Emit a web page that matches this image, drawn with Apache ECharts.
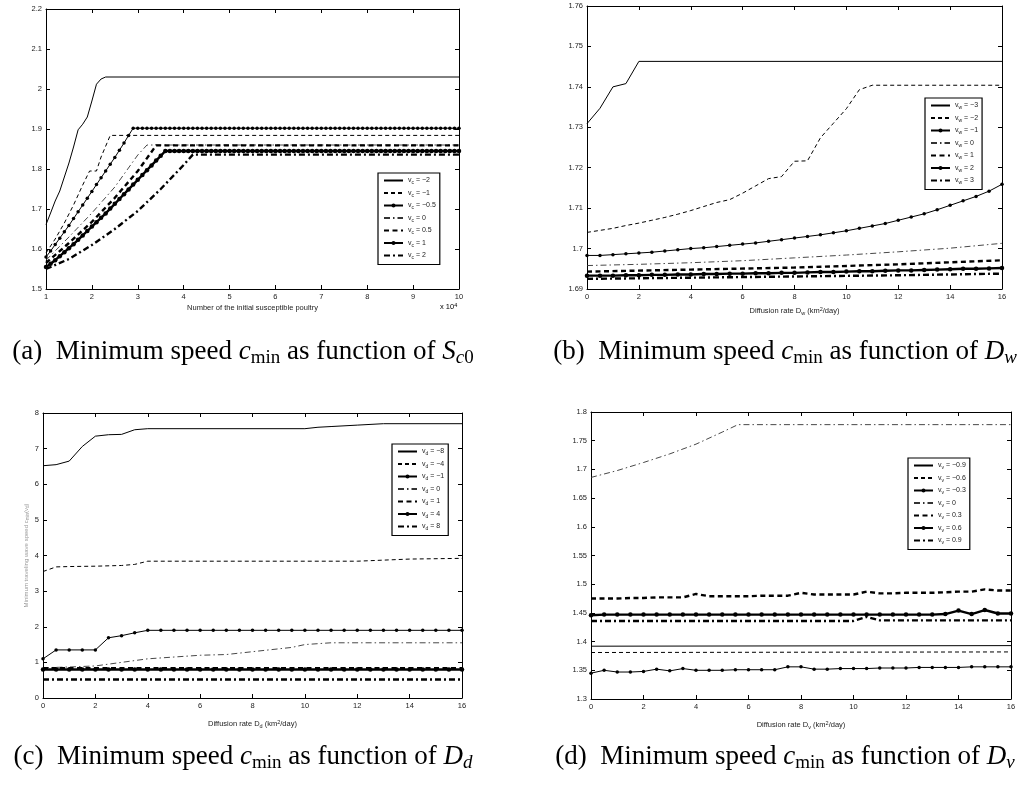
<!DOCTYPE html>
<html><head><meta charset="utf-8">
<script src="https://cdn.jsdelivr.net/npm/echarts@6/dist/echarts.min.js"></script>
<style>html,body{margin:0;padding:0;background:#fff}#c{width:1027px;height:787px}</style>
</head><body><div id="c"></div>
<script>
// ---------- Panel (a): c_min vs S_c0 (x in units of 10^4) ----------
const A_X = [1,1.1,1.2,1.3,1.4,1.5,1.6,1.7,1.8,1.9,
  2,2.1,2.2,2.3,2.4,2.5,2.6,2.7,2.8,2.9,
  3,3.1,3.2,3.3,3.4,3.5,3.6,3.7,3.8,3.9,
  4,4.1,4.2,4.3,4.4,4.5,4.6,4.7,4.8,4.9,
  5,5.1,5.2,5.3,5.4,5.5,5.6,5.7,5.8,5.9,
  6,6.1,6.2,6.3,6.4,6.5,6.6,6.7,6.8,6.9,
  7,7.1,7.2,7.3,7.4,7.5,7.6,7.7,7.8,7.9,
  8,8.1,8.2,8.3,8.4,8.5,8.6,8.7,8.8,8.9,
  9,9.1,9.2,9.3,9.4,9.5,9.6,9.7,9.8,9.9,10];
const A_VCm2 = [[1,1.661],[1.1,1.69],[1.2,1.72],[1.3,1.745],[1.4,1.78],[1.5,1.815],[1.6,1.855],[1.7,1.898],[1.8,1.912],[1.9,1.93],[2.0,1.97],[2.1,2.012],[2.2,2.025],[2.3,2.03],[10,2.03]];
const A_VCm1 = [[1,1.59],[1.2,1.625],[1.4,1.665],[1.6,1.71],[1.8,1.76],[1.95,1.795],[2.1,1.795],[2.2,1.83],[2.4,1.884],[10,1.884]];
const A_VCm05 = [1.580,1.595,1.611,1.627,1.643,1.659,1.676,1.693,1.710,1.727,
  1.744,1.761,1.778,1.795,1.812,1.829,1.847,1.865,1.884,1.902,
  1.902,1.902,1.902,1.902,1.902,1.902,1.902,1.902,1.902,1.902,
  1.902,1.902,1.902,1.902,1.902,1.902,1.902,1.902,1.902,1.902,
  1.902,1.902,1.902,1.902,1.902,1.902,1.902,1.902,1.902,1.902,
  1.902,1.902,1.902,1.902,1.902,1.902,1.902,1.902,1.902,1.902,
  1.902,1.902,1.902,1.902,1.902,1.902,1.902,1.902,1.902,1.902,
  1.902,1.902,1.902,1.902,1.902,1.902,1.902,1.902,1.902,1.902,
  1.902,1.902,1.902,1.902,1.902,1.902,1.902,1.902,1.902,1.902,1.902];
const A_VC0 = [[1,1.572],[1.5,1.63],[2,1.69],[2.5,1.755],[3,1.835],[3.2,1.86],[10,1.86]];
const A_VC05 = [[1,1.565],[1.5,1.615],[2,1.668],[2.5,1.728],[3,1.795],[3.4,1.859],[10,1.859]];
const A_VC1 = [1.555,1.563,1.572,1.582,1.592,1.602,1.612,1.623,1.634,1.645,
  1.656,1.667,1.678,1.689,1.701,1.713,1.725,1.737,1.749,1.761,
  1.773,1.785,1.797,1.809,1.821,1.833,1.845,1.845,1.845,1.845,
  1.845,1.845,1.845,1.845,1.845,1.845,1.845,1.845,1.845,1.845,
  1.845,1.845,1.845,1.845,1.845,1.845,1.845,1.845,1.845,1.845,
  1.845,1.845,1.845,1.845,1.845,1.845,1.845,1.845,1.845,1.845,
  1.845,1.845,1.845,1.845,1.845,1.845,1.845,1.845,1.845,1.845,
  1.845,1.845,1.845,1.845,1.845,1.845,1.845,1.845,1.845,1.845,
  1.845,1.845,1.845,1.845,1.845,1.845,1.845,1.845,1.845,1.845,1.845];
const A_VC2 = [[1,1.55],[1.5,1.575],[2,1.61],[2.5,1.65],[3,1.695],[3.5,1.75],[4,1.81],[4.2,1.836],[10,1.836]];
const A_LEG = ['\u22122','\u22121','\u22120.5','0','0.5','1','2'];

// ---------- shared x grid for (b),(c),(d) ----------
const X05 = [0,0.5,1,1.5,2,2.5,3,3.5,4,4.5,5,5.5,6,6.5,7,7.5,8,8.5,9,9.5,10,10.5,11,11.5,12,12.5,13,13.5,14,14.5,15,15.5,16];

// ---------- Panel (b): c_min vs D_w ----------
const B_VWm3 = [[0,1.7309],[0.5,1.7347],[1,1.740],[1.5,1.7408],[2,1.7463],[16,1.7463]];
const B_VWm2 = [[0,1.7040],[0.5,1.7045],[1,1.7050],[1.5,1.7057],[2,1.7063],[2.5,1.7070],[3,1.7077],[3.5,1.7085],[4,1.7094],[4.5,1.7104],[5,1.7114],[5.5,1.7121],[6,1.7137],[6.5,1.7155],[7,1.7173],[7.5,1.7178],[8,1.7216],[8.5,1.7217],[9,1.7274],[9.5,1.7310],[10,1.7346],[10.5,1.7393],[11,1.7404],[16,1.7404]];
const B_VWm1 = [1.6983,1.6983,1.6985,1.6987,1.6989,1.6991,1.6994,1.6997,1.7000,1.7002,1.7005,1.7008,1.7011,1.7014,1.7018,1.7022,1.7026,1.7030,1.7034,1.7039,1.7044,1.7050,1.7056,1.7062,1.7070,1.7078,1.7086,1.7096,1.7107,1.7118,1.7129,1.7142,1.7159];
const B_VW0 = [[0,1.6958],[2,1.6961],[4,1.6965],[6,1.6970],[8,1.6977],[10,1.6984],[12,1.6992],[14,1.7001],[16,1.7013]];
const B_VW1 = [[0,1.6943],[4,1.6948],[8,1.6953],[12,1.6961],[16,1.6971]];
const B_VW2 = [1.6933,1.6933,1.6933,1.6934,1.6934,1.6935,1.6935,1.6936,1.6936,1.6937,1.6937,1.6938,1.6938,1.6939,1.6939,1.6940,1.6940,1.6941,1.6942,1.6942,1.6943,1.6944,1.6944,1.6945,1.6946,1.6946,1.6947,1.6948,1.6949,1.6950,1.6950,1.6951,1.6952];
const B_VW3 = [[0,1.6925],[4,1.6928],[8,1.6931],[12,1.6934],[16,1.6938]];
const B_LEG = ['\u22123','\u22122','\u22121','0','1','2','3'];

// ---------- Panel (c): c_min vs D_d ----------
const C_VDm8 = [[0,6.52],[0.5,6.55],[1,6.65],[1.5,7.06],[2,7.35],[2.5,7.39],[3,7.4],[3.5,7.53],[4,7.56],[10,7.56],[10.5,7.6],[11,7.62],[12,7.66],[13,7.7],[16,7.7]];
const C_VDm4 = [[0,3.55],[0.5,3.68],[1,3.69],[2,3.7],[3,3.72],[3.5,3.75],[4,3.84],[12,3.84],[13,3.87],[14,3.9],[16,3.92]];
const C_VDm1 = [1.1,1.35,1.35,1.35,1.35,1.69,1.75,1.83,1.9,1.9,1.9,1.9,1.9,1.9,1.9,1.9,1.9,1.9,1.9,1.9,1.9,1.9,1.9,1.9,1.9,1.9,1.9,1.9,1.9,1.9,1.9,1.9,1.9];
const C_VD0 = [[0,0.85],[1,0.87],[2,0.9],[3,1.0],[4,1.1],[5,1.15],[6,1.2],[7,1.22],[8,1.3],[9,1.38],[9.5,1.42],[10,1.5],[11,1.55],[16,1.55]];
const C_VD1 = [[0,0.84],[16,0.84]];
const C_VD4 = [0.8,0.8,0.8,0.8,0.8,0.8,0.8,0.8,0.8,0.8,0.8,0.8,0.8,0.8,0.8,0.8,0.8,0.8,0.8,0.8,0.8,0.8,0.8,0.8,0.8,0.8,0.8,0.8,0.8,0.8,0.8,0.8,0.8];
const C_VD8 = [[0,0.52],[16,0.52]];
const C_LEG = ['\u22128','\u22124','\u22121','0','1','4','8'];

// ---------- Panel (d): c_min vs D_v ----------
const D_VVm09 = [[0,1.392],[16,1.393]];
const D_VVm06 = [[0,1.381],[16,1.382]];
const D_VVm03 = [1.345,1.350,1.347,1.347,1.348,1.352,1.349,1.353,1.350,1.350,1.350,1.351,1.351,1.351,1.351,1.356,1.356,1.352,1.352,1.353,1.353,1.353,1.354,1.354,1.354,1.355,1.355,1.355,1.355,1.356,1.356,1.356,1.356];
const D_VV0 = [[0,1.686],[1,1.698],[2,1.712],[3,1.727],[4,1.744],[5,1.765],[5.6,1.778],[16,1.778]];
const D_VV03 = [1.475,1.475,1.475,1.476,1.476,1.477,1.477,1.477,1.483,1.479,1.479,1.479,1.479,1.480,1.480,1.480,1.485,1.482,1.482,1.482,1.482,1.487,1.484,1.484,1.485,1.485,1.485,1.486,1.487,1.487,1.491,1.489,1.489];
const D_VV06 = [1.446,1.447,1.447,1.447,1.447,1.447,1.447,1.447,1.447,1.447,1.447,1.447,1.447,1.447,1.447,1.447,1.447,1.447,1.447,1.447,1.447,1.447,1.447,1.447,1.447,1.447,1.447,1.448,1.454,1.448,1.455,1.449,1.449];
const D_VV09 = [[0,1.436],[10,1.436],[10.5,1.443],[11,1.437],[16,1.437]];
const D_LEG = ['\u22120.9','\u22120.6','\u22120.3','0','0.3','0.6','0.9'];

// ---------- layout / style ----------
const SANS = 'Liberation Sans';
const SERIF = 'Liberation Serif';
const STY = [
  {w:1, type:'solid', mark:false, c:'#000'},
  {w:1, type:[4,3], mark:false, c:'#000'},
  {w:1, type:'solid', mark:true, c:'#000'},
  {w:0.9, type:[6,3,1.5,3], mark:false, c:'#333'},
  {w:2.4, type:[5,3.5], mark:false, c:'#000'},
  {w:2.4, type:'solid', mark:true, c:'#000'},
  {w:2.4, type:[6,3,2,3], mark:false, c:'#000'}
];
const zip = (xs, ys) => xs.map((x, k) => [x, ys[k]]);

const panels = [
  {grid:{left:46,top:9,width:413,height:280}, x:[1,10,1], y:[1.5,2.2,0.1], sub:'c', leg:A_LEG, legPos:[378,173],
   data:[A_VCm2, A_VCm1, zip(A_X,A_VCm05), A_VC0, A_VC05, zip(A_X,A_VC1), A_VC2],
   xname:'{t|Number of the initial susceptible poultry}', xgap:14},
  {grid:{left:587,top:6,width:415,height:283}, x:[0,16,2], y:[1.69,1.76,0.01], sub:'w', leg:B_LEG, legPos:[925,98],
   data:[B_VWm3, B_VWm2, zip(X05,B_VWm1), B_VW0, B_VW1, zip(X05,B_VW2), B_VW3],
   xname:'{t|Diffusion rate D}{s|w}{t| (km}{p|2}{t|/day)}', xgap:17},
  {grid:{left:43,top:413,width:419,height:285}, x:[0,16,2], y:[0,8,1], sub:'d', leg:C_LEG, legPos:[392,444],
   data:[C_VDm8, C_VDm4, zip(X05,C_VDm1), C_VD0, C_VD1, zip(X05,C_VD4), C_VD8],
   xname:'{t|Diffusion rate D}{s|d}{t| (km}{p|2}{t|/day)}', xgap:21,
   yname:'{t|Minimum traveling wave speed c}{s|min}{t|(v}{s|d}{t|)}'},
  {grid:{left:591,top:412,width:420,height:287}, x:[0,16,2], y:[1.3,1.8,0.05], sub:'v', leg:D_LEG, legPos:[908,458],
   data:[D_VVm09, D_VVm06, zip(X05,D_VVm03), D_VV0, zip(X05,D_VV03), zip(X05,D_VV06), D_VV09],
   xname:'{t|Diffusion rate D}{s|v}{t| (km}{p|2}{t|/day)}', xgap:21}
];

const nameRich = {
  t:{fontFamily:SANS, fontSize:7.5, color:'#222', lineHeight:10},
  s:{fontFamily:SANS, fontSize:5.5, color:'#222', lineHeight:5, verticalAlign:'bottom'},
  p:{fontFamily:SANS, fontSize:5.5, color:'#222', lineHeight:5, verticalAlign:'top'}
};
const legRich = {
  t:{fontFamily:SANS, fontSize:7, color:'#222', lineHeight:10},
  s:{fontFamily:SANS, fontSize:5, color:'#222', lineHeight:5, verticalAlign:'bottom'}
};

const grids = [], xAxes = [], yAxes = [], series = [], legends = [];
panels.forEach((p, i) => {
  grids.push(Object.assign({containLabel:false}, p.grid));
  const axLine = {show:true, onZero:false, lineStyle:{color:'#000', width:1}};
  const tick = {show:true, inside:true, length:4, lineStyle:{color:'#000', width:1}};
  ['bottom','top'].forEach(pos => {
    xAxes.push({type:'value', gridIndex:i, position:pos, min:p.x[0], max:p.x[1], interval:p.x[2],
      axisLine:axLine, axisTick:tick, splitLine:{show:false},
      axisLabel:{show:pos==='bottom', fontFamily:SANS, fontSize:7.5, color:'#222', margin:4},
      name: pos==='bottom' ? p.xname : '', nameLocation:'middle', nameGap:p.xgap,
      nameTextStyle:{rich:nameRich}});
  });
  ['left','right'].forEach(pos => {
    yAxes.push({type:'value', gridIndex:i, position:pos, min:p.y[0], max:p.y[1], interval:p.y[2],
      axisLine:axLine, axisTick:tick, splitLine:{show:false},
      axisLabel:{show:pos==='left', fontFamily:SANS, fontSize:7.5, color:'#222', margin:4},
      name: (pos==='left' && p.yname) ? p.yname : '', nameLocation:'middle', nameGap:13, nameRotate:90,
      nameTextStyle:{rich:{
        t:{fontFamily:SANS, fontSize:6, color:'#999', lineHeight:8},
        s:{fontFamily:SANS, fontSize:4.5, color:'#999', lineHeight:4, verticalAlign:'bottom'}}}});
  });
  const names = [];
  p.data.forEach((d, k) => {
    const s = STY[k];
    const nm = 'p' + i + 's' + k;
    names.push(nm);
    series.push({type:'line', name:nm, xAxisIndex:2*i, yAxisIndex:2*i, data:d,
      symbol: s.mark ? 'circle' : 'none', symbolSize: s.w > 1.5 ? 4.5 : 3.5, showSymbol:true,
      lineStyle:{color:s.c, width:s.w, type:s.type}, itemStyle:{color:'#000'},
      animation:false, silent:true, z: 2 + k});
  });
  const labMap = {};
  names.forEach((nm, k) => { labMap[nm] = '{t|v}{s|' + p.sub + '}{t| = ' + p.leg[k] + '}'; });
  legends.push({orient:'vertical', left:p.legPos[0], top:p.legPos[1],
    data: names.map((nm, k) => STY[k].mark ? {name:nm} : {name:nm, itemStyle:{opacity:0}}),
    formatter: nm => labMap[nm], selectedMode:false,
    itemWidth:19, itemHeight:5, itemGap:4, padding:[4,4,4,5],
    borderColor:'#000', borderWidth:1.2, backgroundColor:'#fff',
    textStyle:{rich:legRich}});
});

const capRich = {
  r:{fontFamily:SERIF, fontSize:27, fill:'#000', lineHeight:31},
  i:{fontFamily:SERIF, fontSize:27, fontStyle:'italic', fill:'#000', lineHeight:31},
  s:{fontFamily:SERIF, fontSize:19, fill:'#000', lineHeight:14, verticalAlign:'bottom'},
  si:{fontFamily:SERIF, fontSize:19, fontStyle:'italic', fill:'#000', lineHeight:14, verticalAlign:'bottom'}
};
function cap(x, y, txt) {
  return {type:'text', x:x, y:y, silent:true,
    style:{text:txt, rich:capRich, align:'center', verticalAlign:'middle'}};
}

const chart = echarts.init(document.getElementById('c'), null, {renderer:'canvas'});
chart.setOption({
  backgroundColor:'#fff',
  animation:false,
  grid:grids, xAxis:xAxes, yAxis:yAxes, series:series, legend:legends,
  graphic:[
    {type:'text', x:440, y:302, silent:true, style:{text:'{t|x 10}{p|4}', rich:nameRich}},
    cap(243, 352, '{r|(a)  Minimum speed }{i|c}{s|min}{r| as function of }{i|S}{si|c}{s|0}'),
    cap(785, 352, '{r|(b)  Minimum speed }{i|c}{s|min}{r| as function of }{i|D}{si|w}'),
    cap(243, 757, '{r|(c)  Minimum speed }{i|c}{s|min}{r| as function of }{i|D}{si|d}'),
    cap(785, 757, '{r|(d)  Minimum speed }{i|c}{s|min}{r| as function of }{i|D}{si|v}')
  ]
});
</script></body></html>
